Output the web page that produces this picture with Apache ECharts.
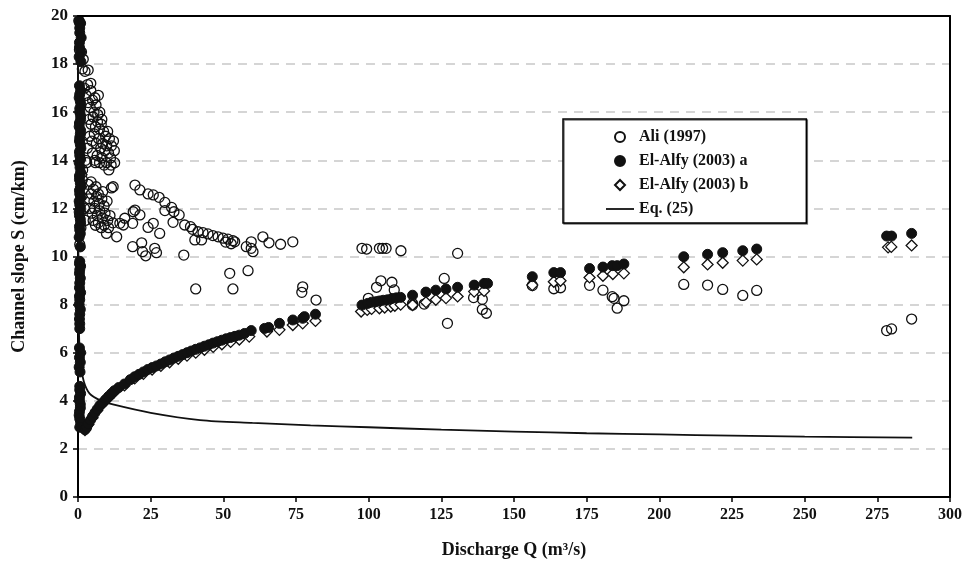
<!DOCTYPE html>
<html><head><meta charset="utf-8">
<script src="https://cdn.jsdelivr.net/npm/echarts@6/dist/echarts.min.js"></script>
<style>html,body{margin:0;padding:0;background:#fff}#c{width:965px;height:566px}</style>
</head><body><div id="c"></div>
<script>
var seriesNames = ['Ali (1997)', 'El-Alfy (2003) a', 'El-Alfy (2003) b', 'Eq. (25)'];
var xTicks = [0, 25, 50, 75, 100, 125, 150, 175, 200, 225, 250, 275, 300];
var yTicks = [0, 2, 4, 6, 8, 10, 12, 14, 16, 18, 20];

var aliPoints = [
[0.3,19.8],[0.6,19.7],[0.5,18.6],[1.2,18.5],[1.8,18.2],[1.5,17.8],[2.4,17.7],[3.5,17.75],[2.2,17.0],[3.3,17.15],[4.4,17.2],[2.8,16.7],[4.4,16.9],[5.8,16.6],[7,16.7],
[3.5,16.4],[4.2,16.2],[5,16.5],[5.5,16.0],[6.2,16.3],[6.8,15.9],[7.5,16.0],[8.2,15.7],[3.8,15.7],[4.5,15.5],[5.2,15.8],[6,15.4],[6.7,15.6],[7.4,15.3],[8,15.5],[8.8,15.2],[9.5,15.0],[10.2,15.2],[10.8,14.9],[11.5,14.6],[12.2,14.8],[4,15.0],[4.8,14.8],[5.6,15.1],[6.3,14.7],[7.1,14.9],[7.8,14.5],[8.5,14.7],[9.2,14.4],[9.9,14.6],[10.5,14.3],[11.2,14.1],[12.5,14.4],[5,14.3],[5.8,14.0],[6.6,14.2],[7.4,13.9],[8.3,14.1],[9,13.8],[9.8,13.9],[10.6,13.6],[11.4,13.8],[12.6,13.9],[3.2,14.5],[2.6,14.0],[3,13.9],[6,13.9],
[3.5,13.0],[4.5,13.1],[5.3,12.8],[6.2,12.9],[7,12.6],[8.5,12.7],[3.8,12.4],[4.6,12.6],[5.5,12.3],[6.4,12.5],[7.3,12.2],[8.2,12.4],[9,12.1],[10,12.3],[11.5,12.85],[4,12.0],[4.8,11.8],[5.7,12.0],[6.6,11.7],[7.5,11.9],[8.4,11.6],[9.3,11.8],[10.2,11.5],[11,11.7],[12,11.4],[5.2,11.5],[6,11.3],[7,11.4],[8,11.2],[9,11.3],[10.5,11.2],[13.3,10.82],[9.8,10.96],[16.1,11.59],[12.1,12.9],[1.2,12.5],[1.5,13.2],[0.8,11.8],[1.0,11.2],[0.6,10.5],[2.2,12.0],[2.5,11.5],[1.6,13.6],
[19.6,12.97],[21.3,12.77],[24.1,12.6],[25.9,12.56],[27.9,12.46],[29.9,12.25],[32.2,12.04],[29.9,11.91],[33,11.86],[34.8,11.73],[36.7,11.31],[38.7,11.24],[39.4,11.13],[41.3,11.03],[43,10.99],[44.7,10.94],[46.4,10.87],[48.2,10.82],[49.9,10.76],[51.6,10.72],[53.3,10.66],[40.2,10.69],[42.5,10.69],[50.8,10.6],[52.7,10.53],[53.9,10.61],[19.6,11.93],[19,11.86],[21.3,11.73],[15.6,11.31],[18.8,11.38],[24.1,11.21],[25.9,11.38],[28.1,10.96],[32.7,11.42],[18.8,10.41],[21.9,10.57],[22.2,10.2],[23.3,10.03],[26.4,10.34],[27,10.16],[36.4,10.06],[57.9,10.41],[59.6,10.34],[60.2,10.2],[59.6,10.61],[63.6,10.82],[65.7,10.57],[69.7,10.51],[73.9,10.61],[52.2,9.3],[58.5,9.41],[40.5,8.65],[53.3,8.65],[14.4,11.38],
[77.3,8.74],[77,8.51],[81.9,8.19],[97.7,10.34],[99.3,10.31],[103.7,10.34],[104.8,10.34],[106,10.34],[111.1,10.24],[130.6,10.13],[99.9,8.26],[104.2,8.99],[102.7,8.72],[108,8.93],[108.8,8.61],[115.1,7.98],[115.1,8.05],[119.1,8.02],[126,9.09],[127.1,7.22],
[136.1,8.29],[139.1,8.22],[139.1,7.8],[140.5,7.64],[156.3,8.79],[163.7,8.66],[166,8.7],[176,8.8],[180.6,8.6],[183.8,8.33],[184.4,8.26],[185.5,7.85],[187.8,8.16],[208.4,8.84],[216.6,8.81],[221.8,8.63],[228.7,8.38],[233.5,8.59],[278.2,6.92],[279.9,6.99],[286.8,7.4]
];

var alfyA = [
[0.4,19.8],[0.9,19.7],[0.6,19.5],[0.6,19.3],[1.1,19.1],[0.5,18.9],[0.5,18.7],[0.9,18.5],[0.4,18.3],[1.0,18.1],
[0.5,17.1],[0.9,16.9],[0.6,16.75],[0.4,16.6],[0.8,16.45],[1.0,16.3],[0.6,16.15],[0.6,16.0],[0.9,15.85],[0.9,15.7],[0.5,15.55],[0.4,15.4],[0.9,15.25],[0.8,15.1],[0.6,14.95],[0.5,14.8],[0.8,14.65],[1.0,14.5],[0.5,14.35],[0.6,14.2],[0.9,14.05],[0.4,13.9],[0.7,13.7],[0.9,13.5],[0.5,13.35],[0.5,13.2],[0.8,13.05],[1.0,12.9],[0.5,12.75],[0.6,12.6],[0.9,12.45],[0.4,12.3],[0.6,12.15],[0.8,12.0],[0.4,11.85],[0.5,11.7],[0.8,11.55],[0.9,11.4],[0.5,11.25],[0.6,11.1],[0.8,10.95],[0.4,10.8],[0.8,10.4],
[0.6,9.8],[0.5,9.7],[0.9,9.6],[0.6,9.45],[0.5,9.3],[0.8,9.1],[0.6,8.9],[0.5,8.7],[0.9,8.5],[0.5,8.35],[0.6,8.2],[0.4,8.0],[0.8,7.8],[0.6,7.6],[0.5,7.4],[0.6,7.2],[0.6,7.0],[0.5,6.2],[0.9,6.0],[0.5,5.8],[0.8,5.6],[0.4,5.4],[0.7,5.2],[0.6,4.6],[0.6,4.45],[0.9,4.3],[0.5,4.15],[0.5,4.0],[0.8,3.85],[0.8,3.7],[0.5,3.55],[0.4,3.4],[0.6,3.25],[0.9,3.1],[0.6,2.9],
[2.4,2.8],[3,2.9],[3.6,3.05],[4.3,3.2],[5,3.35],[5.8,3.5],[6.6,3.65],[7.5,3.8],[8.5,3.92],[9.5,4.05],[10.5,4.18],[11.5,4.3],[12.5,4.42],[14,4.55],[16,4.7],[18,4.88],[19.5,5.0],[21,5.1],[22.5,5.2],[24,5.3],[25.5,5.38],[27,5.45],[28.5,5.53],[30,5.62],[31.5,5.7],[33,5.78],[34.5,5.85],[36,5.92],[37.5,6.0],[39,6.07],[40.5,6.14],[42,6.2],[43.5,6.27],[45,6.33],[46.5,6.4],[48,6.46],[49.5,6.52],[51,6.58],[52.5,6.63],[54,6.68],[55.5,6.73],
[57.3,6.8],[59.6,6.92],[64.2,7.01],[65.6,7.05],[69.3,7.22],[73.9,7.36],[77.3,7.43],[77.9,7.5],[81.7,7.6],
[97.7,7.98],[99.7,8.05],[101,8.1],[102.5,8.12],[103.7,8.15],[105,8.18],[106.5,8.2],[108,8.25],[109.5,8.28],[111,8.3],[115.1,8.39],[119.7,8.52],[123.1,8.6],[126.6,8.65],[130.6,8.72],[136.3,8.81],[139.7,8.88],[140.9,8.88],
[156.3,9.16],[163.7,9.33],[166,9.33],[176,9.5],[180.6,9.56],[183.8,9.62],[185.5,9.62],[187.8,9.69],[208.4,9.99],[216.6,10.09],[221.8,10.16],[228.7,10.24],[233.5,10.31],[278.2,10.85],[279.9,10.85],[286.8,10.96]
];

var alfyB = [
[1.0,14.9],[1.2,13.4],[1.1,12.9],[1.3,12.5],
[2.4,2.78],[3.6,3.02],[5,3.3],[6.6,3.6],[8.5,3.88],[10.5,4.12],[12.5,4.36],[16,4.64],[19.5,4.93],[22.5,5.12],[25.5,5.3],[28.5,5.45],[31.5,5.6],[34.5,5.75],[37.5,5.88],[40.5,6.0],[43.5,6.12],[46.5,6.24],[49.5,6.35],[52.5,6.45],[55.5,6.55],
[58.9,6.67],[65,6.88],[69.3,6.95],[73.9,7.15],[77.3,7.22],[81.7,7.32],[97.4,7.71],[99.5,7.78],[101,7.82],[103.7,7.85],[105.5,7.88],[107.6,7.92],[109,7.95],[111,8.0],[115.1,7.98],[119.7,8.1],[123.1,8.2],[126.6,8.27],[130.6,8.34],[136.3,8.54],[139.7,8.57],
[156.3,8.81],[163.7,8.95],[166,8.99],[176,9.13],[180.6,9.2],[184,9.27],[187.8,9.3],[208.4,9.55],[216.6,9.67],[221.8,9.74],[228.7,9.83],[233.5,9.88],[278.7,10.38],[279.8,10.40],[286.8,10.46]
];

var eqCurve = [
[0.02,20],[0.1,12],[0.3,7.2],[0.8,5.6],[2,4.8],[4,4.3],[8,4.0],[12,3.85],[25,3.5],[42,3.2],[60,3.08],[80,2.98],[100,2.9],[125,2.8],[150,2.72],[175,2.65],[200,2.6],[225,2.55],[250,2.51],[287,2.47]
];

var FONT = '"Liberation Serif","Times New Roman",serif';
var frameLine = {show: true, onZero: false, lineStyle: {color: '#000', width: 2}};
var chart = echarts.init(document.getElementById('c'), null, {renderer: 'canvas'});
chart.setOption({
  animation: false,
  backgroundColor: '#fff',
  grid: {left: 78, right: 11, top: 16, bottom: 69, show: false},
  legend: {
    orient: 'vertical', left: 563, top: 119,
    data: [
      {name: seriesNames[0], icon: 'circle'},
      {name: seriesNames[1], icon: 'circle'},
      {name: seriesNames[2], icon: 'path://M0,0M28,10M14,0L19,5L14,10L9,5Z'},
      {name: seriesNames[3], icon: 'path://M0,0M28,10M0,4.1L28,4.1L28,5.9L0,5.9Z'}
    ],
    itemWidth: 28, itemHeight: 10, itemGap: 8,
    padding: [10, 58, 6, 42],
    backgroundColor: '#fff', borderColor: '#000', borderWidth: 1.5,
    shadowColor: 'rgba(0,0,0,0.5)', shadowOffsetX: 1, shadowOffsetY: 1, shadowBlur: 0,
    textStyle: {fontFamily: FONT, fontWeight: 'bold', fontSize: 16, color: '#111'}
  },
  xAxis: [{
    type: 'value', min: 0, max: 300, interval: 25,
    name: 'Discharge Q (m³/s)', nameLocation: 'middle', nameGap: 44,
    nameTextStyle: {fontFamily: FONT, fontWeight: 'bold', fontSize: 18, color: '#111'},
    axisLine: frameLine,
    axisTick: {show: true, inside: false, length: 5, lineStyle: {color: '#000', width: 1.5}},
    axisLabel: {fontFamily: FONT, fontWeight: 'bold', fontSize: 16, color: '#111', margin: 10,
      formatter: function (v) { return xTicks.indexOf(v) >= 0 ? String(v) : ''; }},
    splitLine: {show: false}
  }, {
    type: 'value', min: 0, max: 300, interval: 25, position: 'top', z: 6,
    axisLine: frameLine, axisTick: {show: false}, axisLabel: {show: false}, splitLine: {show: false}
  }],
  yAxis: [{
    type: 'value', min: 0, max: 20, interval: 2,
    name: 'Channel slope S (cm/km)', nameLocation: 'middle', nameGap: 50,
    nameTextStyle: {fontFamily: FONT, fontWeight: 'bold', fontSize: 18, color: '#111'},
    axisLine: frameLine,
    axisTick: {show: true, inside: false, length: 5, lineStyle: {color: '#000', width: 1.5}},
    axisLabel: {fontFamily: FONT, fontWeight: 'bold', fontSize: 17, color: '#111', margin: 10,
      formatter: function (v) { return yTicks.indexOf(v) >= 0 ? String(v) : ''; }},
    splitLine: {show: true, lineStyle: {color: '#c8c8c8', width: 1.5, type: [9, 7]}}
  }, {
    type: 'value', min: 0, max: 20, interval: 2, position: 'right', z: 6,
    axisLine: frameLine, axisTick: {show: false}, axisLabel: {show: false}, splitLine: {show: false}
  }],
  series: [
    {name: seriesNames[0], type: 'scatter', data: aliPoints, symbol: 'circle', symbolSize: 10, z: 2,
      itemStyle: {color: 'rgba(255,255,255,0)', borderColor: '#111', borderWidth: 1.3, opacity: 1}},
    {name: seriesNames[1], type: 'scatter', data: alfyA, symbol: 'circle', symbolSize: 10, z: 4,
      itemStyle: {color: '#111', borderColor: '#111', borderWidth: 1, opacity: 1}},
    {name: seriesNames[2], type: 'scatter', data: alfyB, symbol: 'diamond', symbolSize: 11, z: 3,
      itemStyle: {color: '#fff', borderColor: '#111', borderWidth: 1.3, opacity: 1}},
    {name: seriesNames[3], type: 'line', data: eqCurve, smooth: 0.3, symbol: 'none', z: 5,
      lineStyle: {color: '#111', width: 1.8}, itemStyle: {color: '#111'}}
  ]
});
</script>
</body></html>
